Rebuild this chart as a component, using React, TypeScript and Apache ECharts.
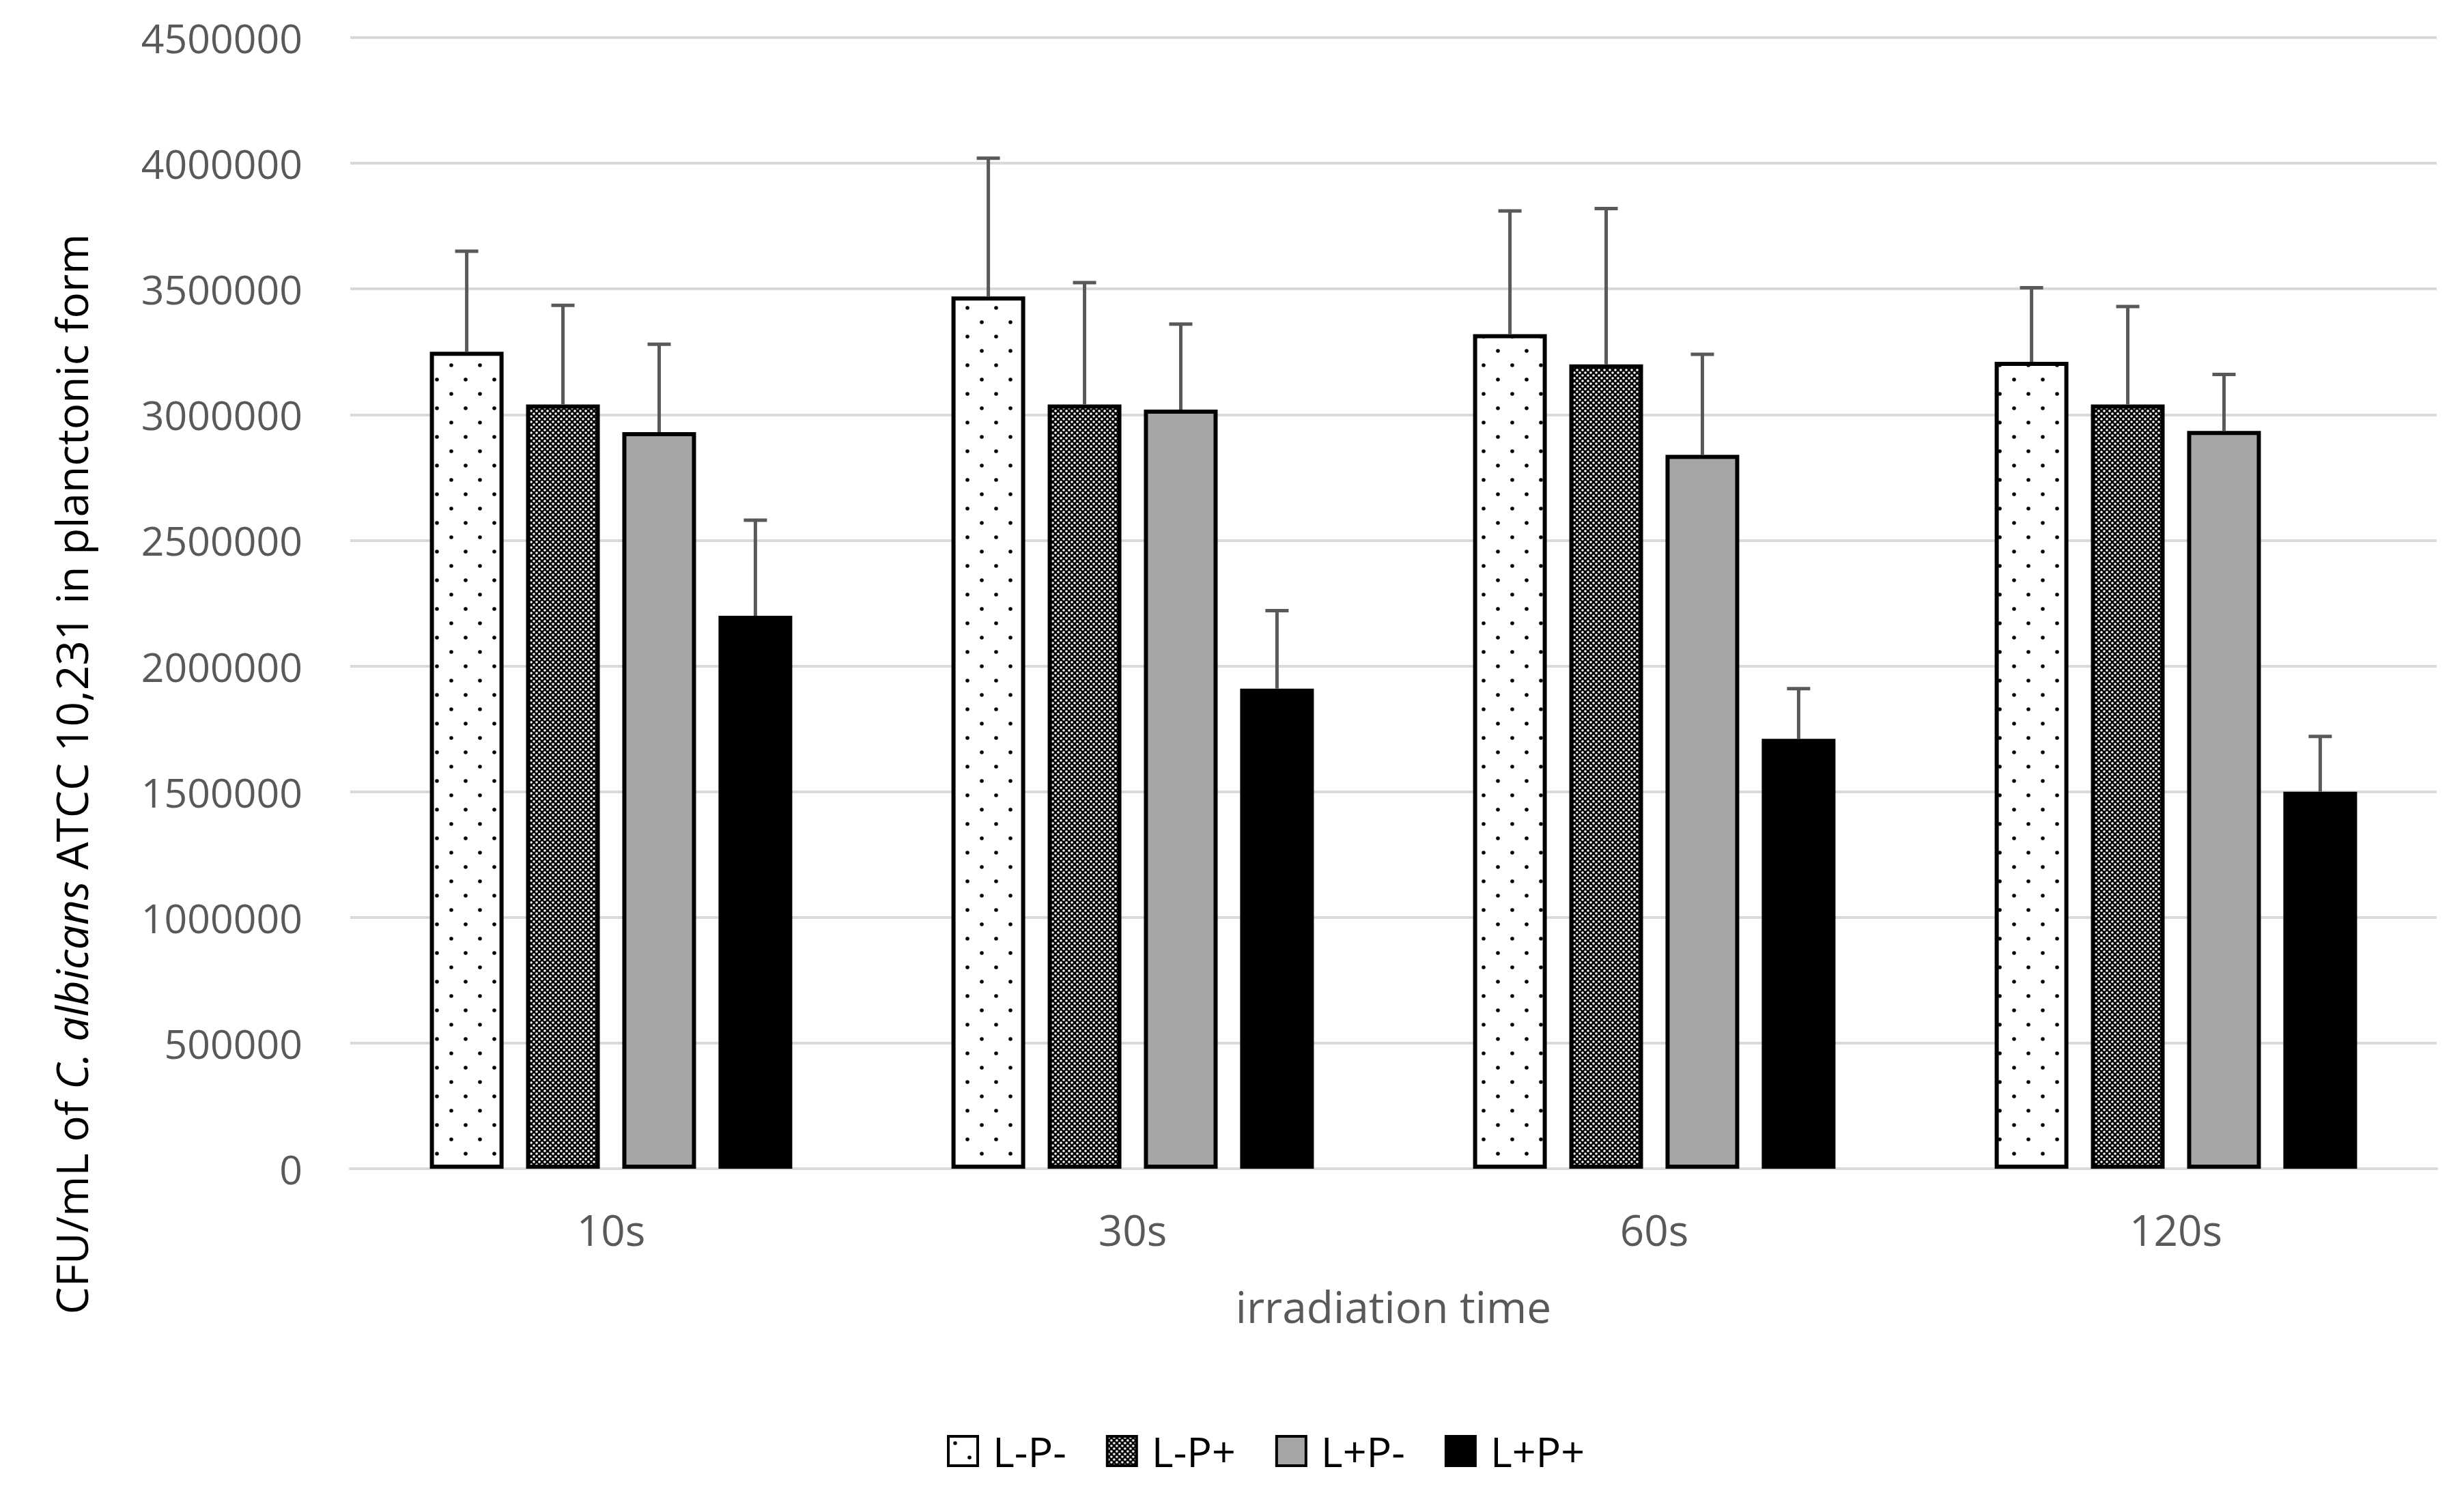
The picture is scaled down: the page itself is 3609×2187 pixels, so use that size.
import React, { useEffect, useRef } from "react";
import * as echarts from "echarts";

const categories = ["10s", "30s", "60s", "120s"];
const seriesNames = ["L-P-", "L-P+", "L+P-", "L+P+"];
const lpMinus = [3250000, 3470000, 3320000, 3210000];
const lpPlus = [3040000, 3040000, 3200000, 3040000];
const lPlusPMinus = [2930000, 3020000, 2840000, 2935000];
const lPlusPPlus = [2200000, 1910000, 1710000, 1500000];
const lpMinusErr = [400000, 550000, 490000, 295000];
const lpPlusErr = [395000, 485000, 620000, 390000];
const lPlusPMinusErr = [350000, 340000, 400000, 225000];
const lPlusPPlusErr = [380000, 310000, 200000, 220000];
const yTicks = { min: 0, max: 4500000, interval: 500000 };

const FONT = "'Open Sans', 'Noto Sans', sans-serif";
const BAR_W = 108;
const BAR_GAP = 0.305;

function dotsPattern(): HTMLCanvasElement {
  const c = document.createElement("canvas");
  c.width = 42;
  c.height = 42;
  const g = c.getContext("2d")!;
  g.fillStyle = "#ffffff";
  g.fillRect(0, 0, 42, 42);
  g.fillStyle = "#000000";
  for (const [x, y] of [[10, 10], [31, 31]]) {
    g.beginPath();
    g.arc(x, y, 2.8, 0, Math.PI * 2);
    g.fill();
  }
  return c;
}

function checkerPattern(): HTMLCanvasElement {
  const c = document.createElement("canvas");
  c.width = 8;
  c.height = 8;
  const g = c.getContext("2d")!;
  g.fillStyle = "#000000";
  g.fillRect(0, 0, 8, 8);
  g.fillStyle = "#ffffff";
  for (const [x, y] of [[2, 2], [6, 6]]) {
    g.beginPath();
    g.arc(x, y, 1.8, 0, Math.PI * 2);
    g.fill();
  }
  return c;
}

export default function App() {
  const ref = useRef<HTMLDivElement>(null);
  useEffect(() => {
    if (!ref.current) return;
    const chart = echarts.init(ref.current, undefined, { renderer: "svg" });
    const fills: any[] = [
      { image: dotsPattern(), repeat: "repeat" },
      { image: checkerPattern(), repeat: "repeat" },
      "#a6a6a6",
      "#000000",
    ];
    const values = [lpMinus, lpPlus, lPlusPMinus, lPlusPPlus];
    const errs = [lpMinusErr, lpPlusErr, lPlusPMinusErr, lPlusPPlusErr];
    const step = BAR_W * (1 + BAR_GAP);

    const barSeries = seriesNames.map((name, i) => ({
      name,
      type: "bar",
      data: values[i],
      barWidth: BAR_W,
      barGap: BAR_GAP * 100 + "%",
      itemStyle: { color: fills[i], borderColor: "#000", borderWidth: 6 },
      z: 2,
    }));

    const errSeries = seriesNames.map((name, i) => ({
      name: "err " + name,
      type: "custom",
      z: 3,
      data: categories.map((_, k) => [k, values[i][k], errs[i][k]]),
      encode: { x: 0, y: 1 },
      renderItem: (params: any, api: any) => {
        const k = api.value(0);
        const v = api.value(1);
        const e = api.value(2);
        const base = api.coord([k, v]);
        const top = api.coord([k, v + e]);
        const x = base[0] + (i - 1.5) * step;
        const style = { stroke: "#595959", lineWidth: 5 };
        return {
          type: "group",
          children: [
            { type: "line", shape: { x1: x, y1: base[1], x2: x, y2: top[1] }, style },
            { type: "line", shape: { x1: x - 17, y1: top[1], x2: x + 17, y2: top[1] }, style },
          ],
        };
      },
    }));

    chart.setOption({
      animation: false,
      grid: { left: 513, right: 40, top: 55, bottom: 475, containLabel: false },
      legend: {
        data: seriesNames,
        left: 1382,
        top: 2090,
        itemWidth: 43,
        itemHeight: 43,
        itemGap: 58,
        icon: "rect",
        textStyle: {
          fontFamily: FONT,
          fontSize: 61,
          color: "#000",
          padding: [0, 0, 0, 17],
        },
        itemStyle: { borderWidth: 4, borderColor: "#000" },
      },
      xAxis: {
        type: "category",
        data: categories,
        axisLine: { show: true, lineStyle: { color: "#d9d9d9", width: 4 } },
        axisTick: { show: false },
        axisLabel: { fontFamily: FONT, fontSize: 62, color: "#595959", margin: 58 },
        name: "irradiation time",
        nameLocation: "middle",
        nameGap: 169,
        nameTextStyle: { fontFamily: FONT, fontSize: 64, color: "#595959" },
      },
      yAxis: {
        type: "value",
        min: yTicks.min,
        max: yTicks.max,
        interval: yTicks.interval,
        axisLine: { show: false },
        axisTick: { show: false },
        axisLabel: {
          fontFamily: FONT,
          fontSize: 59,
          color: "#595959",
          margin: 70,
          formatter: (v: number) => String(v),
        },
        splitLine: { lineStyle: { color: "#d9d9d9", width: 4 } },
      },
      graphic: [
        {
          type: "text",
          x: 104,
          y: 1134,
          rotation: Math.PI / 2,
          style: {
            text: "{n|CFU/mL of }{i|C. albicans}{n| ATCC 10,231 in planctonic form}",
            align: "center",
            verticalAlign: "middle",
            rich: {
              n: { fontFamily: FONT, fontSize: 64, fill: "#000", color: "#000" },
              i: { fontFamily: FONT, fontSize: 64, fontStyle: "italic", fill: "#000", color: "#000" },
            },
          },
        },
      ],
      series: [...barSeries, ...errSeries],
    });
    return () => chart.dispose();
  }, []);
  return (
    <div
      ref={ref}
      style={{ position: "absolute", left: 0, top: 0, width: 3609, height: 2187, background: "#fff" }}
    />
  );
}
